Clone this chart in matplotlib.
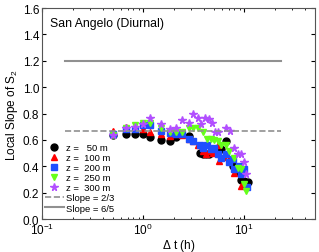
import matplotlib
matplotlib.use("Agg")
import matplotlib.pyplot as plt
import numpy as np

plt.rcParams['font.family'] = ['Liberation Sans', 'DejaVu Sans']
plt.rcParams['mathtext.fontset'] = 'custom'
plt.rcParams['mathtext.rm'] = 'Liberation Sans'
plt.rcParams['mathtext.it'] = 'Liberation Sans'

x50 = [0.5, 0.67, 0.83, 1.0, 1.17, 1.5, 1.83, 2.13, 2.83, 3.61, 3.89, 4.2, 4.53, 4.88, 5.47, 5.89, 6.6, 7.68, 8.28, 8.93, 9.27, 10.0, 10.8]
y50 = [0.64, 0.645, 0.645, 0.645, 0.62, 0.60, 0.59, 0.625, 0.63, 0.50, 0.495, 0.49, 0.495, 0.52, 0.53, 0.53, 0.59, 0.40, 0.37, 0.355, 0.30, 0.29, 0.28]

x100 = [0.5, 0.67, 0.83, 1.0, 1.17, 1.5, 1.83, 2.13, 2.44, 2.83, 3.10, 3.48, 3.89, 4.2, 4.53, 4.88, 5.47, 5.68, 6.36, 7.12, 7.97, 8.6, 9.27, 10.0]
y100 = [0.67, 0.70, 0.695, 0.68, 0.66, 0.645, 0.63, 0.645, 0.64, 0.61, 0.59, 0.56, 0.52, 0.49, 0.52, 0.505, 0.56, 0.44, 0.47, 0.455, 0.35, 0.38, 0.25, 0.38]

x200 = [0.5, 0.67, 0.83, 1.0, 1.17, 1.5, 1.83, 2.13, 2.44, 2.83, 3.10, 3.61, 3.95, 4.26, 4.7, 5.07, 5.47, 5.89, 6.6, 7.12, 7.68, 7.97, 8.93, 9.27, 10.0, 10.6]
y200 = [0.645, 0.68, 0.68, 0.71, 0.71, 0.67, 0.65, 0.645, 0.645, 0.61, 0.59, 0.56, 0.54, 0.56, 0.53, 0.54, 0.49, 0.46, 0.49, 0.43, 0.455, 0.38, 0.40, 0.34, 0.38, 0.24]

x250 = [0.5, 0.67, 0.83, 1.0, 1.17, 1.5, 1.83, 2.13, 2.44, 2.83, 3.10, 3.48, 3.89, 4.26, 4.7, 5.07, 5.47, 5.89, 6.6, 7.12, 7.97, 8.6, 9.27, 10.0, 10.5]
y250 = [0.64, 0.69, 0.71, 0.73, 0.73, 0.69, 0.66, 0.66, 0.66, 0.69, 0.69, 0.69, 0.66, 0.61, 0.61, 0.60, 0.59, 0.56, 0.56, 0.52, 0.46, 0.39, 0.38, 0.27, 0.21]

x300 = [0.5, 0.67, 0.83, 1.0, 1.17, 1.5, 1.83, 2.13, 2.44, 2.83, 3.10, 3.48, 3.75, 4.13, 4.46, 4.77, 5.19, 5.47, 6.6, 7.28, 7.97, 8.6, 9.27, 10.0, 10.5]
y300 = [0.64, 0.69, 0.70, 0.72, 0.77, 0.72, 0.68, 0.69, 0.75, 0.73, 0.80, 0.77, 0.72, 0.77, 0.76, 0.73, 0.66, 0.66, 0.69, 0.67, 0.54, 0.49, 0.49, 0.43, 0.34]

ref_x = [0.168, 23.0]
slope_23 = 2.0 / 3.0
slope_65 = 6.0 / 5.0

fig = plt.figure(figsize=(3.19, 2.53), dpi=100)
ax = fig.add_axes([0.132, 0.130, 0.855, 0.834])

ms = 5
ax.plot(x50, y50, 'o', color='black', ms=ms, ls='none', label='z =   50 m')
ax.plot(x100, y100, '^', color='#ff0000', ms=ms, ls='none', label='z =  100 m')
ax.plot(x200, y200, 's', color='#1f4fff', ms=ms - 0.5, ls='none', label='z =  200 m')
ax.plot(x250, y250, 'v', color='#66ff1a', ms=ms, ls='none', label='z =  250 m')
ax.plot(x300, y300, '*', color='#b24fff', ms=ms + 0.5, ls='none', label='z =  300 m')
ax.plot(ref_x, [slope_23, slope_23], '--', color='#909090', lw=1.2, label='Slope = 2/3')
ax.plot(ref_x, [slope_65, slope_65], '-', color='#909090', lw=1.5, label='Slope = 6/5')

ax.set_xscale('log')
ax.set_xlim(0.1, 50)
ax.set_ylim(0, 1.6)
ax.set_yticks(np.arange(0, 1.61, 0.2))
ax.set_yticklabels([f'{v:.1f}' for v in np.arange(0, 1.61, 0.2)])
ax.tick_params(which='both', direction='in', top=True, right=True, labelsize=8.5, pad=2)
ax.tick_params(which='major', length=3)
ax.tick_params(which='minor', length=1.5)
for s in ax.spines.values():
    s.set_color('#555555')
    s.set_linewidth(0.8)

ax.set_xlabel(r'$\Delta$ t (h)', fontsize=8.5, labelpad=0)
ax.set_ylabel(r'Local Slope of S$_2$', fontsize=8.5, labelpad=2)
ax.text(0.03, 0.93, 'San Angelo (Diurnal)', transform=ax.transAxes, fontsize=8.8, va='center')

leg = ax.legend(loc='upper left', bbox_to_anchor=(0.0, 0.375), frameon=False, fontsize=6.8,
                handlelength=2.0, handletextpad=0.2, labelspacing=0.12, borderpad=0.1,
                borderaxespad=0.2)

fig.savefig('out.png', dpi=100)
